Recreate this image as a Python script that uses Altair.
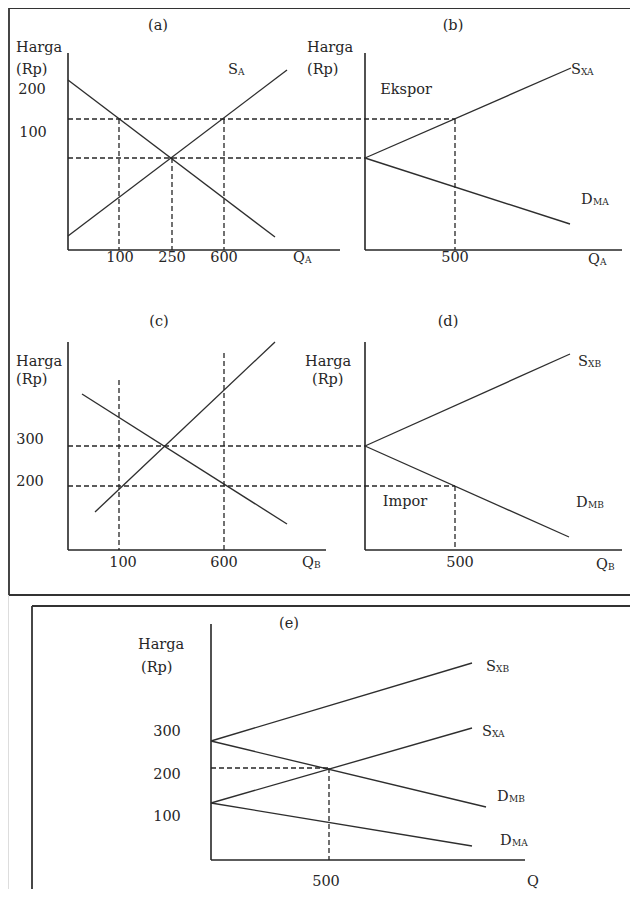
import altair as alt
import pandas as pd

# ---------------- diagram data (schematic units, y grows downward) ----------------
# frames around the panel groups
box_x = [9, 9, 9, 32, 32]
box_y = [8, 8, 595, 606, 606]
box_x2 = [700, 9, 700, 700, 32]
box_y2 = [8, 595, 595, 606, 950]

# axes of the five panels (a, b, c, d, e): price axis then quantity axis
axis_x = [68, 68, 365, 365, 68, 68, 365, 365, 211, 211]
axis_y = [53, 250, 53, 250, 342, 550, 342, 550, 624, 860]
axis_x2 = [68, 340, 365, 622, 68, 326, 365, 622, 211, 525]
axis_y2 = [250, 250, 250, 250, 550, 550, 550, 550, 860, 860]

# supply / demand curves
curve_name = ["D_A", "S_A", "S_XA", "D_MA", "D_B", "S_B", "S_XB", "D_MB",
              "e_S_XB", "e_S_XA", "e_D_MB", "e_D_MA"]
curve_x = [68, 68, 365, 365, 82, 95, 365, 365, 211, 211, 211, 211]
curve_y = [80, 236, 158, 158, 394, 512, 446, 446, 741, 803, 741, 803]
curve_x2 = [275, 287, 571, 570, 287, 275, 570, 569, 472, 472, 486, 472]
curve_y2 = [237, 70, 68, 224, 524, 342, 354, 537, 663, 728, 807, 846]

# dashed guide lines
dash_x = [68, 68, 119, 172, 224, 455, 68, 68, 119, 224, 455, 211, 329]
dash_y = [119, 158, 119, 158, 119, 119, 446, 486, 380, 353, 486, 768, 768]
dash_x2 = [455, 365, 119, 172, 224, 455, 365, 455, 119, 224, 455, 329, 329]
dash_y2 = [119, 158, 250, 250, 250, 250, 446, 486, 550, 550, 550, 768, 860]

# centred labels
ctext = ["(a)", "200", "100", "100", "250", "600",
         "(b)", "Ekspor", "500",
         "(c)", "300", "200", "100", "600",
         "(d)", "Impor", "500",
         "(e)", "300", "200", "100", "500", "Q"]
ctext_x = [158, 32, 33, 120, 172, 224,
           453, 406, 455,
           159, 30, 30, 123, 224,
           448, 405, 460,
           289, 167, 167, 167, 326, 533]
ctext_y = [26, 90, 133, 258, 258, 258,
           26, 90, 258,
           322, 440, 482, 563, 563,
           322, 502, 563,
           624, 732, 775, 817, 882, 882]

# left-aligned labels
ltext = ["Harga", "(Rp)", "Harga", "(Rp)", "Harga", "(Rp)", "Harga", "(Rp)", "Harga", "(Rp)"]
ltext_x = [16, 16, 307, 307, 16, 16, 305, 312, 138, 141]
ltext_y = [48, 70, 48, 70, 362, 380, 362, 380, 645, 668]

# curve / axis names with subscripts
sym_main = ["S", "Q", "S", "D", "Q", "Q", "S", "D", "Q", "S", "S", "D", "D"]
sym_sub = ["A", "A", "XA", "MA", "A", "B", "XB", "MB", "B", "XB", "XA", "MB", "MA"]
sym_x = [228, 293, 571, 581, 588, 302, 578, 576, 596, 486, 482, 497, 500]
sym_y = [70, 258, 70, 200, 260, 563, 362, 503, 565, 667, 732, 797, 841]

# ---------------- tables ----------------
boxes = pd.DataFrame({"x": box_x, "y": box_y, "x2": box_x2, "y2": box_y2})
axes = pd.DataFrame({"x": axis_x, "y": axis_y, "x2": axis_x2, "y2": axis_y2})
curves = pd.DataFrame({"name": curve_name, "x": curve_x, "y": curve_y,
                       "x2": curve_x2, "y2": curve_y2})
dashes = pd.DataFrame({"x": dash_x, "y": dash_y, "x2": dash_x2, "y2": dash_y2})
ctab = pd.DataFrame({"t": ctext, "x": ctext_x, "y": ctext_y})
ltab = pd.DataFrame({"t": ltext, "x": ltext_x, "y": ltext_y})

main_w = {"S": 10, "D": 12, "Q": 12}
mtab = pd.DataFrame({"t": sym_main, "x": sym_x, "y": sym_y})
stab = pd.DataFrame({"t": sym_sub,
                     "x": [x + main_w[m] for x, m in zip(sym_x, sym_main)],
                     "y": [y + 2 for y in sym_y]})

FONT = "DejaVu Serif"
INK = "#262626"
FS = 14.5

xs = alt.Scale(domain=[8, 630], nice=False, zero=False)
ys = alt.Scale(domain=[8, 889], nice=False, zero=False, reverse=True)


def seg_enc():
    return dict(x=alt.X("x:Q", scale=xs, axis=None),
                y=alt.Y("y:Q", scale=ys, axis=None),
                x2="x2:Q", y2="y2:Q")


def txt_enc():
    return dict(x=alt.X("x:Q", scale=xs, axis=None),
                y=alt.Y("y:Q", scale=ys, axis=None),
                text="t:N")


box_layer = alt.Chart(boxes).mark_rule(color="#333333", strokeWidth=1.8).encode(**seg_enc())
axis_layer = alt.Chart(axes).mark_rule(color=INK, strokeWidth=1.6).encode(**seg_enc())
curve_layer = alt.Chart(curves).mark_rule(color="#2e2e2e", strokeWidth=1.35).encode(**seg_enc())
dash_layer = alt.Chart(dashes).mark_rule(color=INK, strokeWidth=1.3,
                                         strokeDash=[5, 3]).encode(**seg_enc())

c_layer = alt.Chart(ctab).mark_text(font=FONT, fontSize=FS, color=INK,
                                    align="center", baseline="middle").encode(**txt_enc())
l_layer = alt.Chart(ltab).mark_text(font=FONT, fontSize=FS, color=INK,
                                    align="left", baseline="middle").encode(**txt_enc())
m_layer = alt.Chart(mtab).mark_text(font=FONT, fontSize=FS, color=INK,
                                    align="left", baseline="middle").encode(**txt_enc())
s_layer = alt.Chart(stab).mark_text(font=FONT, fontSize=9, color=INK,
                                    align="left", baseline="middle").encode(**txt_enc())

chart = alt.layer(box_layer, axis_layer, curve_layer, dash_layer,
                  c_layer, l_layer, m_layer, s_layer).properties(
    width=622, height=881,
    autosize=alt.AutoSizeParams(type="none"),
    padding=0,
).configure_view(stroke=None).configure(background="white")

chart.save("out.html", embed_options={"renderer": "svg", "actions": False})
